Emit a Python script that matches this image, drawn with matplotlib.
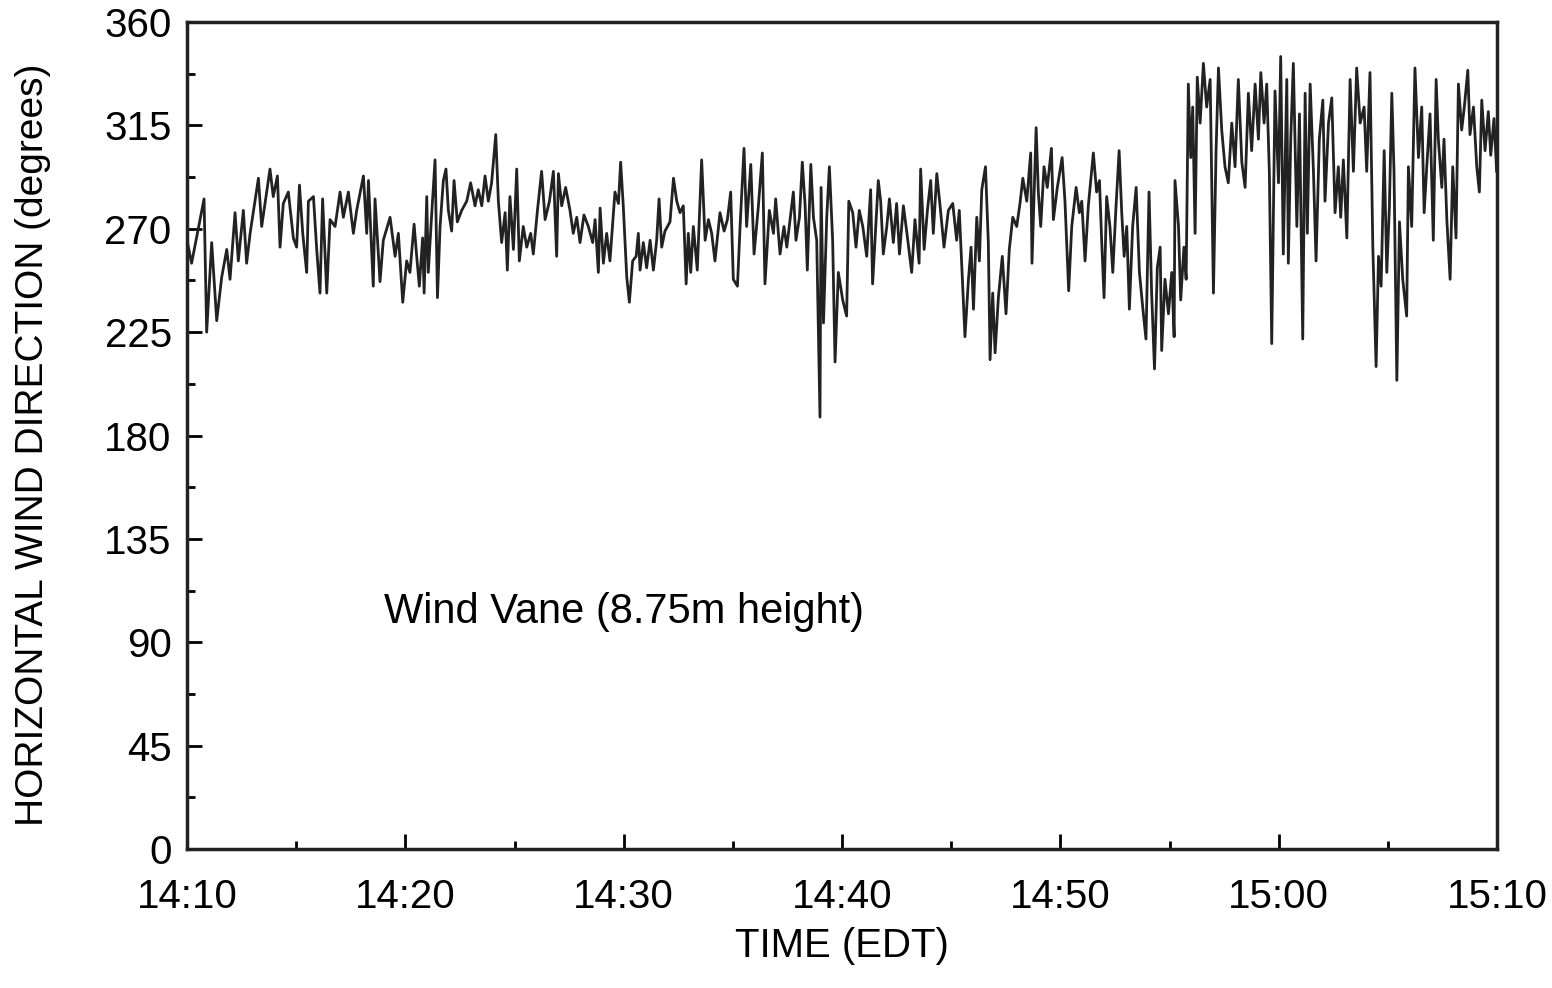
import numpy as np
import matplotlib
matplotlib.use("Agg")
import matplotlib.pyplot as plt
from matplotlib.ticker import MultipleLocator

plt.rcParams['font.family'] = ['Liberation Sans', 'DejaVu Sans']

# minutes after 14:10 and vane direction (degrees)
minutes = [
    0.00, 0.21, 0.78, 0.90, 1.13, 1.36, 1.59, 1.82, 1.97, 2.20, 2.35, 2.58, 2.73, 2.89,
    3.27, 3.42, 3.80, 3.95, 4.14, 4.26, 4.41, 4.64, 4.87, 5.02, 5.15, 5.30, 5.48, 5.56,
    5.79, 5.94, 6.09, 6.21, 6.40, 6.55, 6.78, 7.01, 7.16, 7.39, 7.62, 7.77, 8.08, 8.23,
    8.31, 8.53, 8.61, 8.84, 8.99, 9.30, 9.53, 9.68, 9.88, 10.06, 10.21,
    10.40, 10.52, 10.64, 10.79, 10.86, 10.98, 11.05, 11.21, 11.36, 11.47, 11.59, 11.74,
    11.86, 11.97, 12.12, 12.23, 12.38, 12.58, 12.81, 12.99, 13.19, 13.34, 13.50, 13.65,
    13.80, 13.95, 14.14, 14.26, 14.41, 14.57, 14.67, 14.79, 14.95, 15.10, 15.22, 15.40,
    15.56, 15.74, 15.86, 16.05, 16.24, 16.40, 16.60, 16.78, 16.93, 17.01, 17.16, 17.34,
    17.54, 17.69, 17.85, 18.00, 18.18, 18.38, 18.58, 18.69, 18.84, 18.92, 19.07, 19.22,
    19.37, 19.60, 19.76, 19.86, 19.98, 20.14, 20.26,
    20.41, 20.57, 20.67, 20.75, 20.90, 21.05, 21.21, 21.36, 21.51, 21.62, 21.74, 21.89,
    22.12, 22.28, 22.43, 22.58, 22.73, 22.86, 22.96, 23.07, 23.19, 23.37, 23.57, 23.73,
    23.88, 24.03, 24.18, 24.41, 24.60, 24.75, 24.90, 25.02, 25.21, 25.33, 25.51, 25.63,
    25.82, 25.97, 26.17, 26.35, 26.47, 26.67, 26.86, 26.96, 27.16, 27.34, 27.47, 27.62,
    27.77, 27.89, 28.05, 28.18, 28.31, 28.41, 28.57, 28.69, 28.84, 28.99, 29.04, 29.15,
    29.30, 29.42, 29.57, 29.68, 29.83, 30.03, 30.21, 30.31,
    30.49, 30.64, 30.79, 30.95, 31.13, 31.31, 31.40, 31.56, 31.66, 31.77, 31.89, 32.05,
    32.17, 32.35, 32.50, 32.63, 32.81, 32.96, 33.19, 33.34, 33.53, 33.60, 33.76, 33.91,
    34.06, 34.18, 34.34, 34.49, 34.67, 34.87, 35.07, 35.25, 35.37, 35.48, 35.63, 35.79,
    35.91, 36.02, 36.17, 36.29, 36.40, 36.57, 36.70, 36.78, 36.90, 37.01, 37.16, 37.34,
    37.51, 37.66, 37.82, 38.00, 38.15, 38.28, 38.46, 38.64, 38.70, 38.89, 38.99, 39.10,
    39.25, 39.40, 39.59, 39.68, 39.86, 40.08, 40.21, 40.38,
    40.52, 40.72, 40.87, 40.98, 41.13, 41.28, 41.51, 41.66, 41.79, 41.89, 42.00, 42.12,
    42.27, 42.40, 42.55, 42.69, 42.81, 42.92, 43.04, 43.16, 43.31, 43.47, 43.62, 43.80,
    43.92, 44.06, 44.18, 44.31, 44.44, 44.57, 44.64, 44.79, 44.95, 45.10, 45.21, 45.25,
    45.41, 45.51, 45.66, 45.76, 45.86, 45.97, 46.06, 46.17, 46.27, 46.40, 46.55, 46.70,
    46.86, 47.01, 47.13, 47.24, 47.39, 47.54, 47.69, 47.85, 48.00, 48.15, 48.31, 48.46,
    48.61, 48.76, 48.92, 49.07, 49.18, 49.33, 49.45, 49.57, 49.68,
    49.83, 49.99, 50.09, 50.21, 50.37, 50.44, 50.55, 50.67, 50.83, 50.95, 51.10, 51.21,
    51.31, 51.44, 51.59, 51.71, 51.86, 52.02, 52.12, 52.28, 52.43, 52.58, 52.73, 52.84,
    52.96, 53.12, 53.27, 53.42, 53.57, 53.73, 53.91, 54.03, 54.18, 54.31, 54.46, 54.57,
    54.69, 54.83, 54.95, 55.07, 55.18, 55.28, 55.41, 55.53, 55.68, 55.86, 55.94, 56.09,
    56.24, 56.40, 56.55, 56.66, 56.78, 56.93, 57.08, 57.21, 57.31, 57.47, 57.57, 57.70,
    57.85, 57.97, 58.12, 58.23, 58.38, 58.50, 58.66, 58.76, 58.92, 59.07, 59.19, 59.30,
    59.45, 59.60, 59.71, 59.86, 59.98,
]
direction = [
    265, 255, 283, 225, 264, 230, 249, 261, 248, 277, 256, 278, 255, 268,
    292, 271, 296, 284, 293, 262, 281, 286, 266, 262, 289, 268, 251, 282,
    284, 261, 242, 283, 242, 274, 271, 286, 275, 286, 268, 278, 293, 268,
    291, 245, 283, 247, 265, 275, 258, 268, 238, 256, 251,
    272, 258, 245, 266, 242, 284, 251, 277, 300, 240, 271, 291,
    296, 278, 269, 291, 273, 278, 282, 290, 280, 287, 280, 293,
    282, 290, 311, 282, 264, 277, 252, 284, 261, 296, 256, 271,
    262, 268, 259, 278, 295, 274, 282, 295, 258, 294, 280, 288,
    278, 268, 275, 264, 276, 271, 264, 274, 251, 279, 255, 268,
    256, 286, 281, 299, 280, 249, 238,
    256, 258, 268, 252, 264, 253, 265, 252, 265, 283, 262, 269,
    273, 292, 282, 277, 280, 246, 268, 251, 271, 252, 300, 265,
    274, 268, 256, 277, 269, 274, 286, 248, 245, 271, 305, 271,
    298, 259, 280, 303, 246, 278, 268, 283, 259, 271, 262, 274,
    286, 265, 275, 299, 280, 252, 298, 275, 265, 188, 288, 229,
    275, 297, 265, 212, 251, 239, 232, 282,
    277, 262, 278, 271, 258, 287, 246, 274, 291, 282, 259, 271,
    283, 264, 281, 259, 280, 269, 251, 274, 255, 296, 261, 278,
    291, 268, 294, 280, 262, 278, 281, 265, 278, 255, 223, 248,
    262, 235, 275, 256, 287, 297, 264, 213, 242, 216, 240, 258,
    233, 261, 275, 271, 281, 292, 282, 303, 255, 314, 286, 271,
    297, 288, 305, 274, 288, 301, 282, 243,
    271, 288, 277, 282, 256, 280, 303, 286, 291, 265, 240, 284,
    271, 251, 280, 304, 277, 258, 271, 235, 271, 288, 251, 233,
    222, 286, 242, 209, 253, 262, 217, 248, 233, 251, 223, 291,
    271, 239, 262, 248, 333, 301, 323, 268, 336, 316, 342, 323,
    335, 242, 304, 340, 313, 297, 290, 316, 297, 335, 299, 288,
    329, 304, 333, 309, 338, 316, 333, 295, 220,
    330, 290, 345, 259, 335, 255, 309, 342, 271, 320, 222, 329,
    268, 333, 295, 256, 309, 326, 282, 316, 327, 277, 297, 275,
    300, 266, 335, 295, 340, 316, 323, 295, 338, 262, 210, 258,
    245, 304, 251, 280, 329, 295, 204, 273, 248, 232, 297, 271,
    340, 301, 323, 277, 297, 320, 265, 335, 309, 288, 309, 274,
    248, 297, 266, 333, 313, 323, 339, 311, 323, 297, 286, 326,
    304, 321, 302, 318, 295,
]

xtick_pos = [0, 10, 20, 30, 40, 50, 60]
xtick_labels = ['14:10', '14:20', '14:30', '14:40', '14:50', '15:00', '15:10']
ytick_pos = [0, 45, 90, 135, 180, 225, 270, 315, 360]

fig = plt.figure(figsize=(15.52, 9.88), dpi=100)
ax = fig.add_axes([0.1205, 0.1407, 0.8441, 0.837])

ax.plot(minutes, direction, color='#222222', linewidth=2.0)

ax.set_xlim(0, 60)
ax.set_ylim(0, 360)
ax.set_xticks(xtick_pos)
ax.set_xticklabels(xtick_labels)
ax.set_yticks(ytick_pos)
ax.xaxis.set_minor_locator(MultipleLocator(5))
ax.yaxis.set_minor_locator(MultipleLocator(22.5))
ax.tick_params(which='major', direction='in', length=11, width=2, labelsize=29,
               top=False, right=False)
ax.tick_params(axis='x', which='major', pad=21)
ax.tick_params(axis='y', which='major', pad=11)
ax.tick_params(which='minor', direction='in', length=6, width=2, top=False, right=False)
for s in ax.spines.values():
    s.set_linewidth(2.5)
    s.set_color('#222222')

ax.set_xlabel('TIME (EDT)', fontsize=29)
ax.xaxis.set_label_coords(0.5, -0.094)
ax.set_ylabel('HORIZONTAL WIND DIRECTION (degrees)', fontsize=28)
ax.yaxis.set_label_coords(-0.104, 0.4885)
ax.text(9.0, 103, 'Wind Vane (8.75m height)', fontsize=30, va='center', ha='left')

fig.savefig('out.png', dpi=100)
